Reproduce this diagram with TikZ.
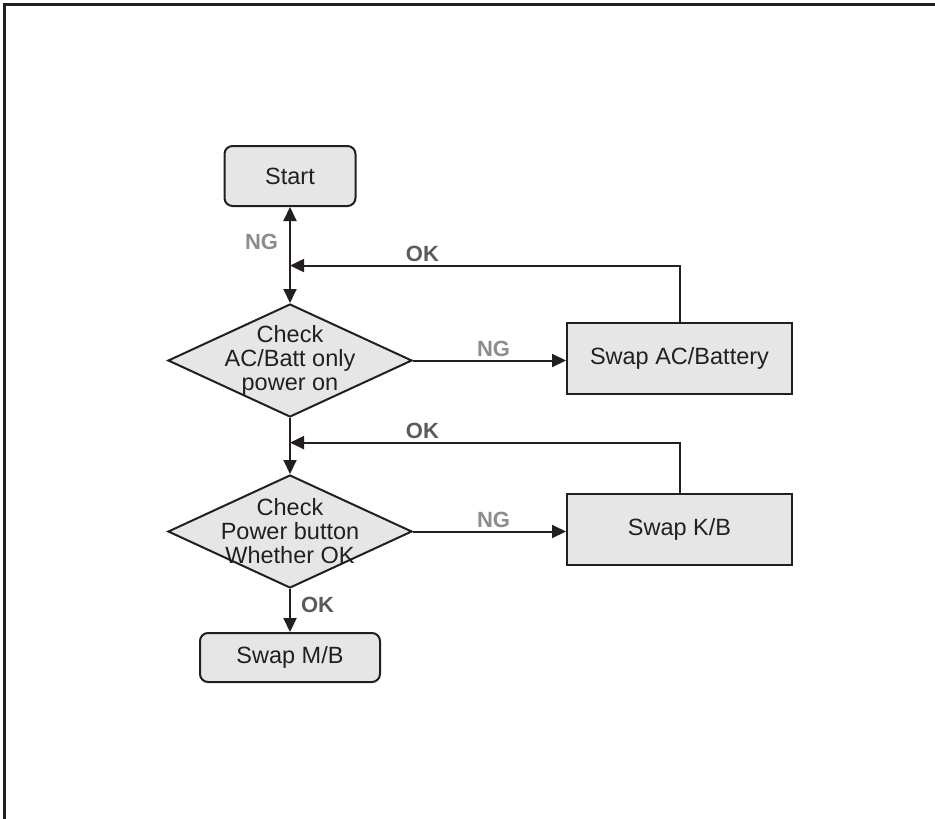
\documentclass[tikz,border=0pt]{standalone}
\usepackage{fontspec}
\setmainfont{Liberation Sans}
\usepackage{tikz}
\usetikzlibrary{positioning,arrows.meta,calc,shapes.geometric}
\definecolor{cLine}{HTML}{231F20}
\definecolor{cFill}{HTML}{E6E6E7}
\definecolor{cNG}{HTML}{8A8C8E}
\definecolor{cOK}{HTML}{5B5B5B}
\tikzset{
  base/.style={draw=cLine,fill=cFill,line width=2pt,align=center,font=\fontsize{23.5}{24}\selectfont,text=cLine},
  term/.style={base,rounded corners=8pt},
  proc/.style={base,minimum width=225pt,minimum height=71pt},
  dec/.style={base,diamond,aspect=2.16,inner sep=-18pt,minimum width=244pt,minimum height=113pt},
  arr/.style={-{Triangle[length=14pt,width=13pt]},line width=2pt,draw=cLine},
  darr/.style={{Triangle[length=14pt,width=13pt]}-{Triangle[length=14pt,width=13pt]},line width=2pt,draw=cLine},
  nglbl/.style={font=\fontsize{22}{22}\selectfont\bfseries,text=cNG,inner sep=1pt},
  oklbl/.style={font=\fontsize{22}{22}\selectfont\bfseries,text=cOK,inner sep=1pt}}
\begin{document}
\begin{tikzpicture}[x=1pt,y=-1pt]
\useasboundingbox (0,0) rectangle (935,819);
\draw[line width=3pt,cLine] (4.5,819) -- (4.5,4.5) -- (935,4.5);
\node[term, minimum width=131pt, minimum height=60pt] (start) at (290,176) {Start};
\node[dec, below=96pt of start] (dec1) {Check\\AC/Batt only\\power on};
\node[proc, right=153pt of dec1, yshift=2pt] (acb) {Swap AC/Battery};
\node[dec, below=56pt of dec1] (dec2) {Check\\Power button\\Whether OK};
\node[proc, right=153pt of dec2, yshift=2pt] (kb) {Swap K/B};
\node[term, below=43pt of dec2, minimum width=180pt, minimum height=49pt] (mb) {Swap M/B};
\coordinate (j1) at ($(start.south)!0.61!(dec1.north)$);
\coordinate (j2) at ($(dec1.south)!0.44!(dec2.north)$);
\draw[darr] (start) -- (dec1) node[nglbl, pos=0.36, left=10pt] {NG};
\draw[arr] (acb.north) |- (j1) node[oklbl, pos=0.83, above=2pt] {OK};
\draw[arr] (dec1) -- (dec1 -| acb.west) node[nglbl, midway, xshift=4pt, above=2pt] {NG};
\draw[arr] (dec1) -- (dec2);
\draw[arr] (kb.north) |- (j2) node[oklbl, pos=0.83, above=2pt] {OK};
\draw[arr] (dec2) -- (dec2 -| kb.west) node[nglbl, midway, xshift=4pt, above=2pt] {NG};
\draw[arr] (dec2) -- (mb) node[oklbl, pos=0.36, right=9pt] {OK};
\end{tikzpicture}
\end{document}
